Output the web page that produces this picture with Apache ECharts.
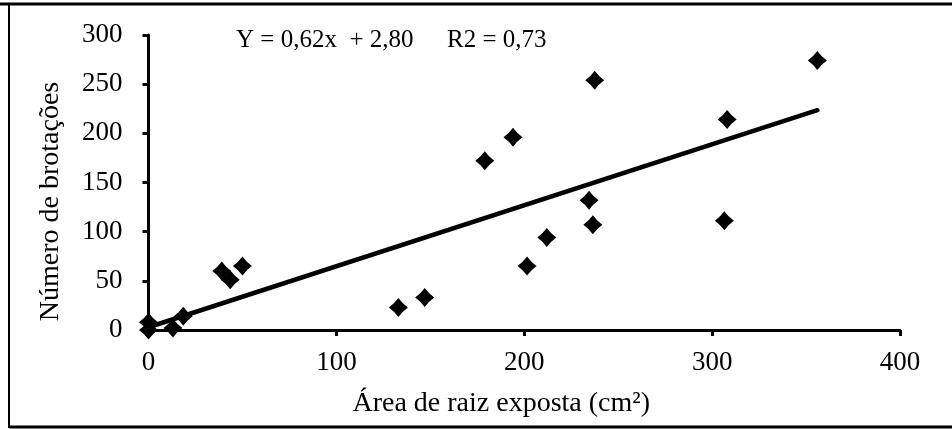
<!DOCTYPE html>
<html>
<head>
<meta charset="utf-8">
<script src="https://cdn.jsdelivr.net/npm/echarts@6/dist/echarts.min.js"></script>
<style>
  html, body { margin: 0; padding: 0; background: #fff; }
  #chart { width: 952px; height: 429px; }
</style>
</head>
<body>
<div id="chart"></div>
<script>
// Exposed root area (cm²) and number of sprouts per plant
const areaRaiz = [0, 0, 13, 18.5, 39, 43.5, 50, 133, 147, 179, 194, 201.5, 212, 234.5, 236.5, 237.5, 306.5, 308, 356];
const brotacoes = [0, 8, 2, 14, 60, 51, 65, 23, 33, 172, 196, 65, 94, 132, 107, 254, 111, 214, 274];

// Linear fit reported on the chart
const slope = 0.62;
const intercept = 2.80;
const equationText = 'Y = 0,62x  + 2,80';
const r2Text = 'R2 = 0,73';

const xTicks = [0, 100, 200, 300, 400];
const yTicks = [0, 50, 100, 150, 200, 250, 300];

const points = areaRaiz.map((x, i) => [x, brotacoes[i]]);
const xMaxData = Math.max(...areaRaiz);
const fitLine = [0, xMaxData].map(x => [x, slope * x + intercept]);

const font = 'Liberation Serif, Times New Roman, serif';
// four-pointed diamond with slightly concave sides
const diamond = 'path://M0,-10 Q4.2,-4.2 10,0 Q4.2,4.2 0,10 Q-4.2,4.2 -10,0 Q-4.2,-4.2 0,-10 Z';

const chart = echarts.init(document.getElementById('chart'), null, { renderer: 'canvas' });
chart.setOption({
  animation: false,
  backgroundColor: '#fff',
  grid: { left: 148.5, right: 52, top: 35, bottom: 99 },
  xAxis: {
    type: 'value',
    min: xTicks[0], max: xTicks[xTicks.length - 1], interval: 100,
    name: 'Área de raiz exposta (cm²)',
    nameLocation: 'middle', nameGap: 60,
    nameTextStyle: { fontFamily: font, fontSize: 28, color: '#000', padding: [0, 46, 0, 0] },
    axisLine: { onZero: false, lineStyle: { color: '#000', width: 3 } },
    axisTick: { show: true, length: 6, lineStyle: { color: '#000', width: 3 } },
    axisLabel: { fontFamily: font, fontSize: 27, color: '#000', margin: 19 },
    splitLine: { show: false }
  },
  yAxis: {
    type: 'value',
    min: yTicks[0], max: yTicks[yTicks.length - 1], interval: 50,
    name: 'Número de brotações',
    nameLocation: 'middle', nameGap: 84, nameRotate: 90,
    nameTextStyle: { fontFamily: font, fontSize: 28, color: '#000', padding: [0, 38, 0, 0] },
    axisLine: { show: true, onZero: false, lineStyle: { color: '#000', width: 3 } },
    axisTick: { show: true, length: 6, lineStyle: { color: '#000', width: 3 } },
    axisLabel: { fontFamily: font, fontSize: 27, color: '#000', margin: 26 },
    splitLine: { show: false }
  },
  series: [
    {
      type: 'line',
      data: fitLine,
      showSymbol: false,
      lineStyle: { color: '#000', width: 4.5, cap: 'round' },
      z: 2
    },
    {
      type: 'scatter',
      data: points,
      symbol: diamond,
      symbolSize: 19,
      itemStyle: { color: '#000', opacity: 1 },
      z: 3
    }
  ],
  graphic: [
    { type: 'line', shape: { x1: 0, y1: 4, x2: 952, y2: 4 }, style: { stroke: '#000', lineWidth: 3 } },
    { type: 'line', shape: { x1: 9, y1: 4, x2: 9, y2: 428 }, style: { stroke: '#000', lineWidth: 2 } },
    { type: 'line', shape: { x1: 9, y1: 427, x2: 952, y2: 427 }, style: { stroke: '#000', lineWidth: 3 } },
    { type: 'text', left: 236, top: 28, style: { text: equationText, font: '25px ' + font, fill: '#000' } },
    { type: 'text', left: 447, top: 28, style: { text: r2Text, font: '25px ' + font, fill: '#000' } }
  ]
});
</script>
</body>
</html>
